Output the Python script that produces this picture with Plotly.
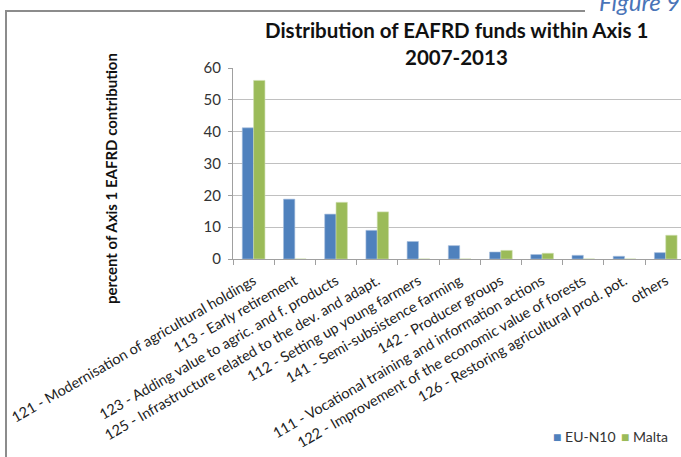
import plotly.graph_objects as go

categories = [
    "121 - Modernisation of agricultural holdings",
    "113 - Early retirement",
    "123 - Adding value to agric. and f. products",
    "125 - Infrastructure related to the dev. and adapt.",
    "112 - Setting up young farmers",
    "141 - Semi-subsistence farming",
    "142 - Producer groups",
    "111 - Vocational training and information actions",
    "122 - Improvement of the economic value of forests",
    "126 - Restoring agricultural prod. pot.",
    "others",
]
eu_n10 = [41.2, 18.8, 14.1, 9.0, 5.5, 4.2, 2.2, 1.4, 1.15, 0.85, 2.0]
malta = [56.1, 0, 17.8, 14.8, 0, 0, 2.7, 1.8, 0, 0, 7.45]
y_ticks = [0, 10, 20, 30, 40, 50, 60]
series_names = ["EU-N10", "Malta"]

BLUE = "#4F81BD"
GREEN = "#9BBB59"
FONT = "Lato"

fig = go.Figure()
fig.add_trace(go.Bar(name=series_names[0], x=categories, y=eu_n10,
                     marker=dict(color=BLUE, line=dict(color="#A7C0DE", width=0.6))))
fig.add_trace(go.Bar(name=series_names[1], x=categories, y=malta,
                     marker=dict(color=GREEN, line=dict(color="#CDDDAC", width=0.6))))

L, R, T, B = 233, 0, 68, 198
W, H = 681, 457
pw = W - L - R
ph = H - T - B

def px(x):
    return (x - L) / pw

def py(y):
    return (H - B - y) / ph

fig.update_layout(
    width=W, height=H,
    margin=dict(l=L, r=R, t=T, b=B, pad=0, autoexpand=False),
    paper_bgcolor="white", plot_bgcolor="white",
    barmode="group", bargap=0.45, bargroupgap=0,
    font=dict(family=FONT, color="#222222"),
    showlegend=False,
    xaxis=dict(
        type="category", range=[-0.5, 10.37], automargin=False,
        tickangle=-30, tickson="boundaries", ticks="outside", ticklen=5,
        tickcolor="#A0A0A0", showline=True, linecolor="#A0A0A0", linewidth=1,
        tickfont=dict(size=14.5, family=FONT, color="#222222"),
        ticklabelstandoff=7,
        showgrid=False, fixedrange=True,
    ),
    yaxis=dict(
        range=[0, 60], tickvals=y_ticks, ticks="outside", ticklen=4, automargin=False,
        tickcolor="#A0A0A0", showline=True, linecolor="#A0A0A0", linewidth=1,
        gridcolor="#C0C0C0", gridwidth=1, zeroline=False,
        tickfont=dict(size=15, family=FONT, color="#333333"),
        ticklabelstandoff=4, fixedrange=True,
    ),
)

fig.add_annotation(text="<b>Distribution of EAFRD funds within Axis 1</b>",
                   xref="paper", yref="paper", x=px(456), y=py(30),
                   showarrow=False, xanchor="center", yanchor="middle",
                   font=dict(size=20.5, family=FONT, color="#111111"))
fig.add_annotation(text="<b>2007-2013</b>",
                   xref="paper", yref="paper", x=px(456), y=py(57),
                   showarrow=False, xanchor="center", yanchor="middle",
                   font=dict(size=20.5, family=FONT, color="#111111"))
fig.add_annotation(text="<b>percent of Axis 1 EAFRD contribution</b>",
                   xref="paper", yref="paper", x=px(111), y=py(179),
                   showarrow=False, xanchor="center", yanchor="middle", textangle=-90,
                   font=dict(size=15, family=FONT, color="#111111"))
fig.add_annotation(text="<i>Figure 9</i>",
                   xref="paper", yref="paper", x=px(682), y=py(1),
                   showarrow=False, xanchor="right", yanchor="middle",
                   font=dict(size=24, family=FONT, color="#4A74B8"))

# legend (manual, Excel style)
legend_colors = [BLUE, GREEN]
legend_x = [551, 619]
for name, col, lx in zip(series_names, legend_colors, legend_x):
    fig.add_annotation(
        text=f"<span style='color:{col}'>■</span> {name}",
        xref="paper", yref="paper", x=px(lx), y=py(436),
        showarrow=False, xanchor="left", yanchor="middle",
        font=dict(size=14, family=FONT, color="#333333"))

fig.add_shape(type="path", xref="paper", yref="paper",
              path=f"M {px(6)},{py(470)} L {px(6)},{py(11)} L {px(585)},{py(11)}",
              line=dict(color="#8C8C8C", width=2))

fig.write_html("out.html", config={"displayModeBar": False},
               post_script="document.body.style.margin='0';")
